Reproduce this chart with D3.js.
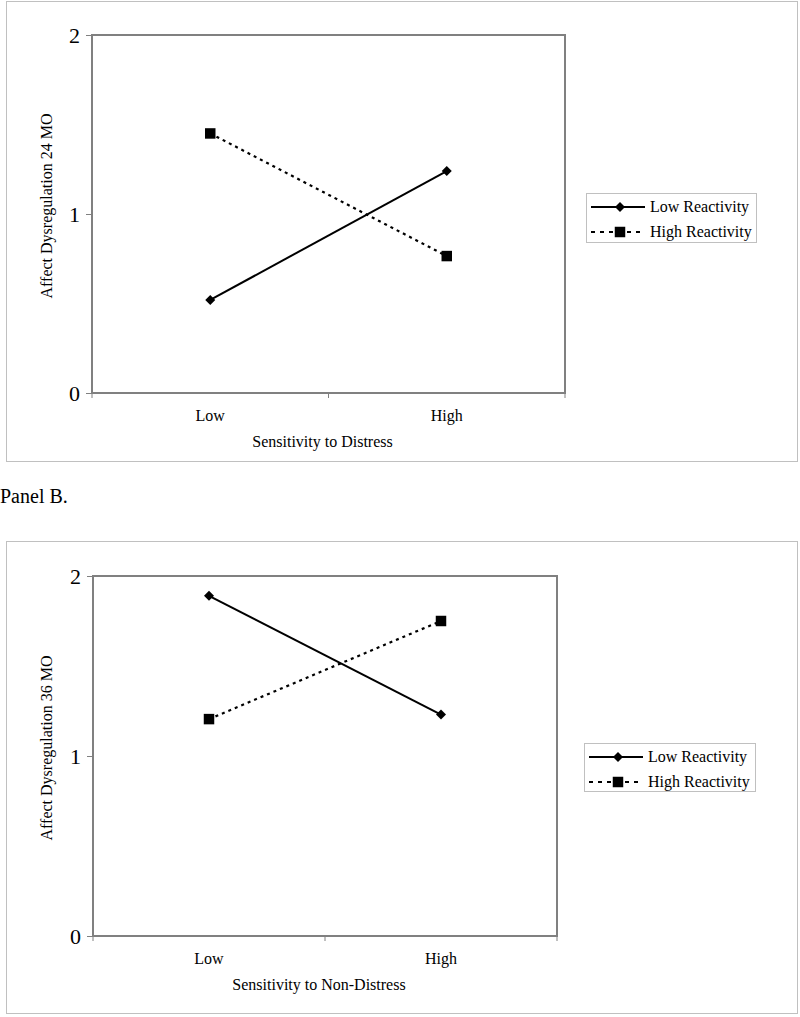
<!DOCTYPE html>
<html><head><meta charset="utf-8">
<script src="https://cdn.jsdelivr.net/npm/d3@7"></script>
<style>body{margin:0;background:#fff}svg{display:block}</style>
</head><body>
<script>
const categories = ["Low", "High"];
const seriesNames = ["Low Reactivity", "High Reactivity"];
const panelA_low = [0.52, 1.24];
const panelA_high = [1.45, 0.765];
const panelB_low = [1.89, 1.23];
const panelB_high = [1.205, 1.75];
const yTicks = [0, 1, 2];
const yTitles = ["Affect Dysregulation 24 MO", "Affect Dysregulation 36 MO"];
const xTitles = ["Sensitivity to Distress", "Sensitivity to Non-Distress"];

const W = 800, H = 1017;
const FONT = "Liberation Serif, Times New Roman, serif";
const svg = d3.select("body").append("svg").attr("width", W).attr("height", H);

const panels = [
  {frame:[6,1,797,461], plot:[92,35,565,393], legend:[586,193,756,242], ytitleX:47,
   series:[panelA_low, panelA_high], yTitle:yTitles[0], xTitle:xTitles[0]},
  {frame:[6,541,797,1013], plot:[93,576,557,936], legend:[584,743,755,791], ytitleX:47,
   series:[panelB_low, panelB_high], yTitle:yTitles[1], xTitle:xTitles[1]}
];

svg.append("text").attr("x", 0).attr("y", 503).attr("font-family", FONT)
  .attr("font-size", 20).text("Panel B.");

panels.forEach(p => {
  const [fx0, fy0, fx1, fy1] = p.frame;
  svg.append("rect").attr("x", fx0 + 0.5).attr("y", fy0 + 0.5)
    .attr("width", fx1 - fx0).attr("height", fy1 - fy0)
    .attr("fill", "none").attr("stroke", "#c0c0c0").attr("stroke-width", 1);

  const [px0, py0, px1, py1] = p.plot;
  const x = d3.scaleBand().domain(categories).range([px0, px1]).padding(0);
  const y = d3.scaleLinear().domain([0, 2]).range([py1, py0]);
  const cx = d => x(d) + x.bandwidth() / 2;

  svg.append("rect").attr("x", px0).attr("y", py0).attr("width", px1 - px0).attr("height", py1 - py0)
    .attr("fill", "none").attr("stroke", "#808080").attr("stroke-width", 2);

  const ya = svg.append("g").attr("transform", `translate(${px0},0)`)
    .call(d3.axisLeft(y).tickValues(yTicks).tickFormat(d3.format("d")).tickSize(6).tickPadding(6));
  ya.select(".domain").remove();
  ya.selectAll(".tick line").attr("stroke", "#808080");
  ya.selectAll(".tick text").attr("font-family", FONT).attr("font-size", 22).attr("fill", "#000");

  const xa = svg.append("g").attr("transform", `translate(0,${py1})`)
    .call(d3.axisBottom(x).tickSize(0).tickPadding(17));
  xa.select(".domain").remove();
  xa.selectAll(".tick text").attr("font-family", FONT).attr("font-size", 16).attr("fill", "#000");
  const bounds = categories.map(c => x(c)).concat([x(categories[categories.length - 1]) + x.bandwidth()]);
  svg.selectAll(null).data(bounds).enter().append("line")
    .attr("x1", d => d).attr("x2", d => d).attr("y1", py1).attr("y2", py1 + 5)
    .attr("stroke", "#808080").attr("stroke-width", 1);

  svg.append("text").attr("x", (px0 + px1) / 2 - 6).attr("y", py1 + 54)
    .attr("text-anchor", "middle").attr("font-family", FONT).attr("font-size", 16).text(p.xTitle);
  svg.append("text").attr("transform", `translate(${p.ytitleX + 5},${(py0 + py1) / 2 - 8}) rotate(-90)`)
    .attr("text-anchor", "middle").attr("font-family", FONT).attr("font-size", 16).text(p.yTitle);

  const line = d3.line().x((d, i) => cx(categories[i])).y(d => y(d));
  const styles = [{dash: null, w: 2}, {dash: "3,4", w: 2.2}];
  p.series.forEach((s, si) => {
    svg.append("path").datum(s).attr("d", line).attr("fill", "none")
      .attr("stroke", "#000").attr("stroke-width", styles[si].w)
      .attr("stroke-dasharray", styles[si].dash);
    svg.selectAll(null).data(s).enter().append("path")
      .attr("d", d3.symbol().type(d3.symbolSquare).size(si === 0 ? 50 : 110))
      .attr("transform", (d, i) => `translate(${cx(categories[i])},${y(d)})` + (si === 0 ? " rotate(45)" : ""))
      .attr("fill", "#000");
  });

  const [lx0, ly0, lx1, ly1] = p.legend;
  svg.append("rect").attr("x", lx0 + 0.5).attr("y", ly0 + 0.5).attr("width", lx1 - lx0).attr("height", ly1 - ly0)
    .attr("fill", "#fff").attr("stroke", "#c0c0c0");
  seriesNames.forEach((n, i) => {
    const ry = ly0 + 14 + i * 25;
    svg.append("line").attr("x1", lx0 + 5).attr("x2", lx0 + 59).attr("y1", ry).attr("y2", ry)
      .attr("stroke", "#000").attr("stroke-width", styles[i].w).attr("stroke-dasharray", i === 0 ? null : "4,5");
    svg.append("path")
      .attr("d", d3.symbol().type(d3.symbolSquare).size(i === 0 ? 50 : 110))
      .attr("transform", `translate(${lx0 + 34},${ry})` + (i === 0 ? " rotate(45)" : ""))
      .attr("fill", "#000");
    svg.append("text").attr("x", lx0 + 64).attr("y", ry + 5).attr("font-family", FONT)
      .attr("font-size", 16).text(n);
  });
});
</script>
</body></html>
